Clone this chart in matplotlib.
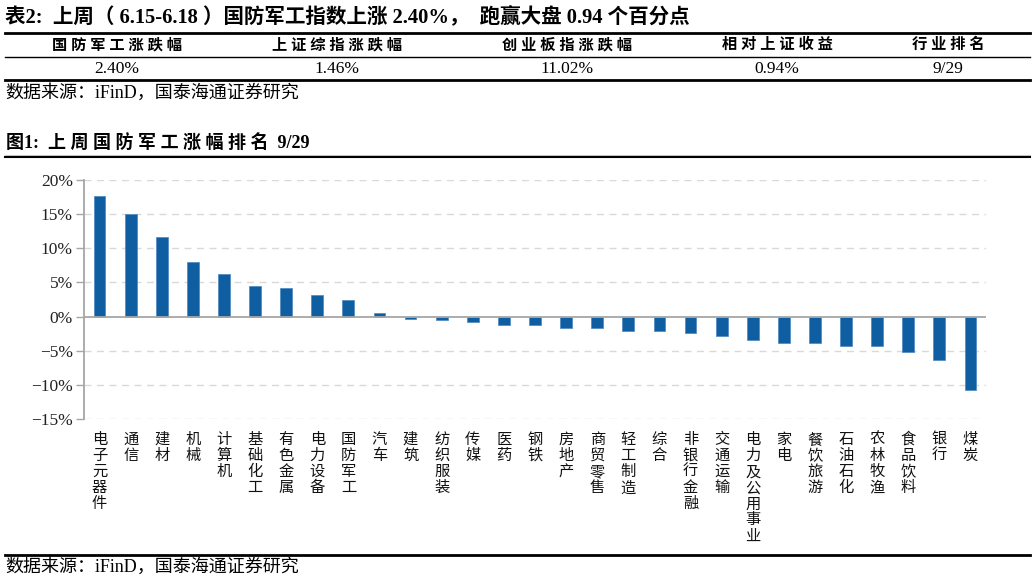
import matplotlib
matplotlib.use("Agg")
import matplotlib.pyplot as plt
import matplotlib.transforms as mtransforms
from matplotlib.lines import Line2D

categories = ["电子元器件", "通信", "建材", "机械", "计算机", "基础化工", "有色金属", "电力设备",
              "国防军工", "汽车", "建筑", "纺织服装", "传媒", "医药", "钢铁", "房地产", "商贸零售",
              "轻工制造", "综合", "非银行金融", "交通运输", "电力及公用事业", "家电", "餐饮旅游",
              "石油石化", "农林牧渔", "食品饮料", "银行", "煤炭"]
values = [17.7, 15.0, 11.7, 8.0, 6.2, 4.5, 4.25, 3.2, 2.40, 0.5, -0.3, -0.5, -0.8, -1.2, -1.2,
          -1.7, -1.7, -2.1, -2.1, -2.35, -2.9, -3.4, -3.9, -3.9, -4.3, -4.3, -5.2, -6.3, -10.7]
yticks = [20, 15, 10, 5, 0, -5, -10, -15]
ytick_labels = ["20%", "15%", "10%", "5%", "0%", "−5%", "−10%", "−15%"]

table_headers = ["国防军工涨跌幅", "上证综指涨跌幅", "创业板指涨跌幅", "相对上证收益", "行业排名"]
table_values = ["2.40%", "1.46%", "11.02%", "0.94%", "9/29"]
table_title = "表2:  上周（ 6.15-6.18 ）国防军工指数上涨 2.40%，  跑赢大盘 0.94 个百分点"
fig_title_label = "图1:"
fig_title_text = "上周国防军工涨幅排名"
fig_title_num = "9/29"
source = "数据来源：iFinD，国泰海通证券研究"

W, H = 1032, 584
FAM = ["Liberation Serif", "Noto Sans CJK SC"]
plt.rcParams["font.family"] = FAM

fig = plt.figure(figsize=(W / 100, H / 100), dpi=100)

def fx(x):
    return x / W

def fy(y):
    return 1 - y / H

def hline(y, x0=5, x1=1030, lw=1.0, color="black"):
    fig.add_artist(Line2D([fx(x0), fx(x1)], [fy(y), fy(y)], lw=lw, color=color,
                          transform=fig.transFigure))

# table section
fig.text(fx(5), fy(18), table_title, fontsize=14.8, fontweight="bold", va="center", ha="left")
hline(33, lw=2.0)
col_x = [117, 337, 567, 777, 948]
for x, h, v in zip(col_x, table_headers, table_values):
    fig.text(fx(x), fy(45), " ".join(h), fontsize=11, fontweight="bold", ha="center", va="center")
    fig.text(fx(x), fy(69), v, fontsize=12.5, ha="center", va="center")
hline(57, lw=1.0)
hline(80, lw=2.0)
fig.text(fx(5), fy(93), source, fontsize=13, ha="left", va="center")

# figure title
fig.text(fx(6), fy(143), fig_title_label + "  " + " ".join(fig_title_text) + "  " + fig_title_num,
         fontsize=13, fontweight="bold", ha="left", va="center")
hline(155, lw=0.8, color="#cccccc")
hline(157, lw=1.5)

# chart
ax = fig.add_axes([fx(84), fy(419), fx(986) - fx(84), fy(180) - fy(419)])
x = list(range(len(categories)))
ax.bar(x, values, width=0.38, color="#105EA2", edgecolor="#4A86C0", linewidth=0.5, zorder=3)
ax.set_xlim(-0.5, len(categories) - 0.5)
ax.set_ylim(-15, 20)
ax.set_yticks(yticks)
ax.set_yticklabels(ytick_labels, fontsize=12.5, color="#222222")
for t in yticks:
    if t != 0:
        ax.axhline(t, color="#d9d9d9", lw=1.0, ls=(0, (5, 4)), zorder=1)
ax.axhline(0, color="#a6a6a6", lw=1.3, zorder=4)
for s in ["top", "right", "bottom"]:
    ax.spines[s].set_visible(False)
ax.spines["left"].set_color("#a6a6a6")
ax.spines["left"].set_linewidth(1.3)
ax.tick_params(axis="y", direction="out", length=6, color="#a6a6a6", width=1.0, pad=2)
ax.set_xticks([])
trans = mtransforms.blended_transform_factory(ax.transData, fig.transFigure)
for i, c in enumerate(categories):
    ax.text(i, fy(431), "\n".join(c), transform=trans, fontsize=11,
            ha="center", va="top", linespacing=0.93, color="#111111",
            family=["Noto Sans CJK SC"])

hline(555, lw=2.0)
fig.text(fx(5), fy(567), source, fontsize=13, ha="left", va="center")

fig.savefig("out.png", dpi=100)
